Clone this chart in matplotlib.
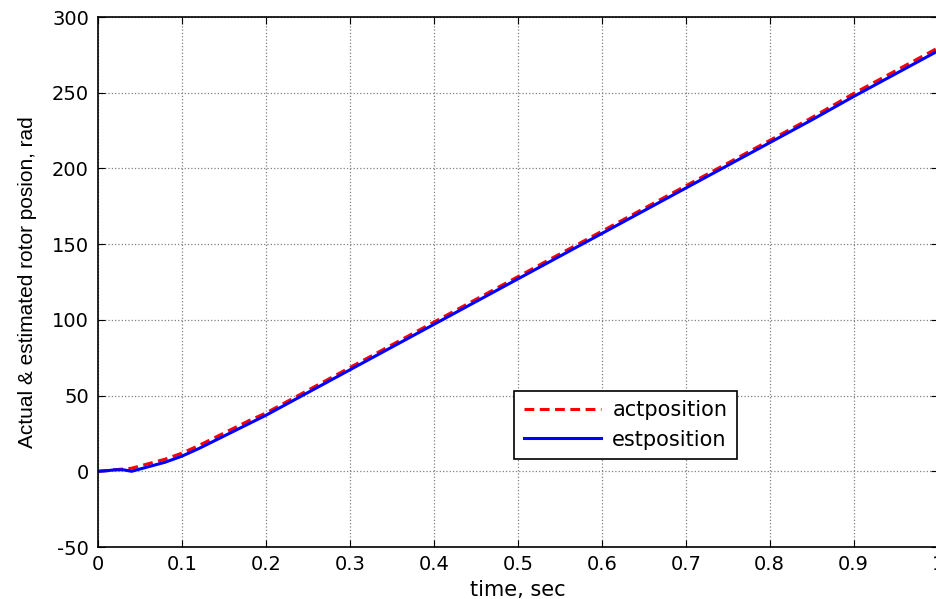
import matplotlib
matplotlib.use("Agg")
import matplotlib.pyplot as plt

# Values
t = [0, 0.01, 0.02, 0.03, 0.04, 0.05, 0.06, 0.08, 0.10, 0.12, 0.14, 0.16, 0.18, 0.20,
     0.25, 0.30, 0.35, 0.40, 0.45, 0.50, 0.55, 0.60, 0.65, 0.70, 0.75, 0.80, 0.85,
     0.90, 0.95, 1.00]
est_pos = [0, 0.3, 1, 1, 0, 1.5, 3, 6, 10, 15, 20.5, 26, 31.5, 37,
           52, 67, 82, 97, 112, 127, 142, 157, 172, 187, 202, 217, 232,
           247.5, 262.5, 277.5]
act_pos = [0, 0.5, 1, 1.5, 2, 3.5, 5, 8, 12, 17, 22.5, 28, 33.5, 38.5,
           53.5, 68.5, 83.5, 98.5, 113.5, 128.5, 143.5, 158.5, 173.5, 188.5, 203.5, 218.5, 233.5,
           249.5, 264.5, 279.5]

xticks = [0, 0.1, 0.2, 0.3, 0.4, 0.5, 0.6, 0.7, 0.8, 0.9, 1]
xtick_labels = ['0', '0.1', '0.2', '0.3', '0.4', '0.5', '0.6', '0.7', '0.8', '0.9', '1']
yticks = [-50, 0, 50, 100, 150, 200, 250, 300]
ytick_labels = ['-50', '0', '50', '100', '150', '200', '250', '300']

plt.rcParams['font.family'] = ['DejaVu Sans']

fig = plt.figure(figsize=(9.36, 5.99), dpi=100)
ax = fig.add_axes([0.1047, 0.0868, 0.897, 0.8848])

ax.plot(t, act_pos, color='red', linestyle=(0, (3.2, 1.8)), linewidth=2.2, label='actposition')
ax.plot(t, est_pos, color='blue', linestyle='-', linewidth=2.2, label='estposition')

ax.set_xlim(0, 1)
ax.set_ylim(-50, 300)
ax.set_xticks(xticks)
ax.set_xticklabels(xtick_labels)
ax.set_yticks(yticks)
ax.set_yticklabels(ytick_labels)
ax.tick_params(direction='in', length=5, labelsize=14, top=True, right=True)
ax.tick_params(axis='x', pad=6)
ax.tick_params(axis='y', pad=6.5)
ax.grid(True, color='#808080', linestyle=':', linewidth=0.9)
for s in ax.spines.values():
    s.set_linewidth(1.2)

ax.set_xlabel('time, sec', fontsize=15, labelpad=4)
ax.set_ylabel('Actual & estimated rotor posion, rad',
              family=['Liberation Sans', 'DejaVu Sans'], fontsize=15, labelpad=11)

leg = ax.legend(loc='lower left', bbox_to_anchor=(0.496, 0.166), borderaxespad=0,
                fontsize=15, fancybox=False, framealpha=1, edgecolor='black',
                handlelength=3.7, borderpad=0.45, labelspacing=0.45, handletextpad=0.55)
leg.get_frame().set_linewidth(1.2)

fig.savefig('out.png', dpi=100)
